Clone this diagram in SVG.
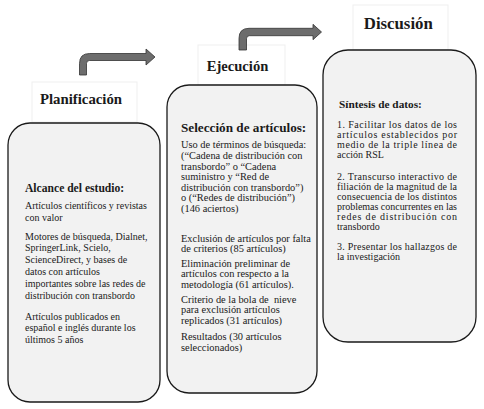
<svg xmlns="http://www.w3.org/2000/svg" width="484" height="409" viewBox="0 0 484 409" font-family="'Liberation Serif', 'DejaVu Serif', serif">
<style>
text{fill:#1a1a1a}
.box{fill:#f2f2f2;stroke:#1a1a1a;stroke-width:1.3}
.lbl{fill:#ffffff;stroke:#efefef;stroke-width:1}
.title{font-weight:bold;text-anchor:middle}
.hd{font-weight:bold}
.b1{font-size:10px}
.b2{font-size:10.4px}
.b3{font-size:10px}
.arrow{fill:#6d6d6d;stroke:#333;stroke-width:0.8}
</style>
<g id="planificacion">
<rect class="lbl" x="32" y="82" width="105" height="40"/>
<text class="title" x="81" y="104" font-size="14.8">Planificación</text>
<rect class="box" x="8" y="123" width="152" height="279" rx="22"/>
<text class="hd" x="25" y="191.5" font-size="11.6">Alcance del estudio:</text>
<text class="b1" x="25" y="208.5">Artículos científicos y revistas</text>
<text class="b1" x="25" y="220.5">con valor</text>
<text class="b1" x="25" y="239.5">Motores de búsqueda, Dialnet,</text>
<text class="b1" x="25" y="251.3">SpringerLink, Scielo,</text>
<text class="b1" x="25" y="263.1">ScienceDirect, y bases de</text>
<text class="b1" x="25" y="274.9">datos con artículos</text>
<text class="b1" x="25" y="286.7">importantes sobre las redes de</text>
<text class="b1" x="25" y="298.5">distribución con transbordo</text>
<text class="b1" x="25" y="319.5">Artículos publicados en</text>
<text class="b1" x="25" y="331.3">español e inglés durante los</text>
<text class="b1" x="25" y="343.1">últimos 5 años</text>
</g>
<g id="ejecucion">
<rect class="lbl" x="198" y="45" width="87" height="40"/>
<text class="title" x="237.5" y="70.5" font-size="14.6">Ejecución</text>
<rect class="box" x="167" y="85" width="150" height="308" rx="22"/>
<text class="hd" x="181" y="131.7" font-size="13.2">Selección de artículos:</text>
<text class="b2" x="181" y="148.3">Uso de términos de búsqueda:</text>
<text class="b2" x="181" y="158.9">(“Cadena de distribución con</text>
<text class="b2" x="181" y="169.5">transbordo” o “Cadena</text>
<text class="b2" x="181" y="180.1">suministro y “Red de</text>
<text class="b2" x="181" y="190.7">distribución con transbordo”)</text>
<text class="b2" x="181" y="201.3">o (“Redes de distribución”)</text>
<text class="b2" x="181" y="211.9">(146 aciertos)</text>
<text class="b2" x="181" y="241.7">Exclusión de artículos por falta</text>
<text class="b2" x="181" y="252.3">de criterios (85 artículos)</text>
<text class="b2" x="181" y="266.5">Eliminación preliminar de</text>
<text class="b2" x="181" y="277">artículos con respecto a la</text>
<text class="b2" x="181" y="287.5">metodología (61 artículos).</text>
<text class="b2" x="181" y="303" xml:space="preserve">Criterio de la bola de  nieve</text>
<text class="b2" x="181" y="313.4">para exclusión artículos</text>
<text class="b2" x="181" y="323.8">replicados (31 artículos)</text>
<text class="b2" x="181" y="340">Resultados (30 artículos</text>
<text class="b2" x="181" y="350.5">seleccionados)</text>
</g>
<g id="discusion">
<rect class="lbl" x="353" y="5" width="95" height="45"/>
<text class="title" x="398.3" y="29" font-size="16.8">Discusión</text>
<rect class="box" x="323" y="50" width="153" height="292" rx="25"/>
<text class="hd" x="339" y="108.3" font-size="11.3">Síntesis de datos:</text>
<text class="b3" x="337" y="128" textLength="120" lengthAdjust="spacing">1. Facilitar los datos de los</text>
<text class="b3" x="337" y="138" textLength="120" lengthAdjust="spacing">artículos establecidos por</text>
<text class="b3" x="337" y="148" textLength="120" lengthAdjust="spacing">medio de la triple línea de</text>
<text class="b3" x="337" y="158">acción RSL</text>
<text class="b3" x="337" y="180" textLength="120" lengthAdjust="spacing">2. Transcurso interactivo de</text>
<text class="b3" x="337" y="190" textLength="120" lengthAdjust="spacing">filiación de la magnitud de la</text>
<text class="b3" x="337" y="200" textLength="120" lengthAdjust="spacing">consecuencia de los distintos</text>
<text class="b3" x="337" y="210" textLength="120" lengthAdjust="spacing">problemas concurrentes en las</text>
<text class="b3" x="337" y="220" textLength="120" lengthAdjust="spacing">redes de distribución con</text>
<text class="b3" x="337" y="230">transbordo</text>
<text class="b3" x="337" y="250" textLength="120" lengthAdjust="spacing">3. Presentar los hallazgos de</text>
<text class="b3" x="337" y="259.5">la investigación</text>
</g>
<g id="connectors">
<path class="arrow" d="M79.5,75 L79.5,63.5 Q79.5,53.5 89.5,53.5 L146,53.5 L146,49 L155,57 L146,65 L146,60.5 L89.5,60.5 Q86.5,60.5 86.5,63.5 L86.5,75 Z"/>
<path class="arrow" d="M239,50 L239,38.3 Q239,28.3 249,28.3 L313,28.3 L313,24.3 L321.5,32 L313,39.7 L313,35.7 L249.5,35.7 Q246.5,35.7 246.5,38.7 L246.5,50 Z"/>
</g>
</svg>
